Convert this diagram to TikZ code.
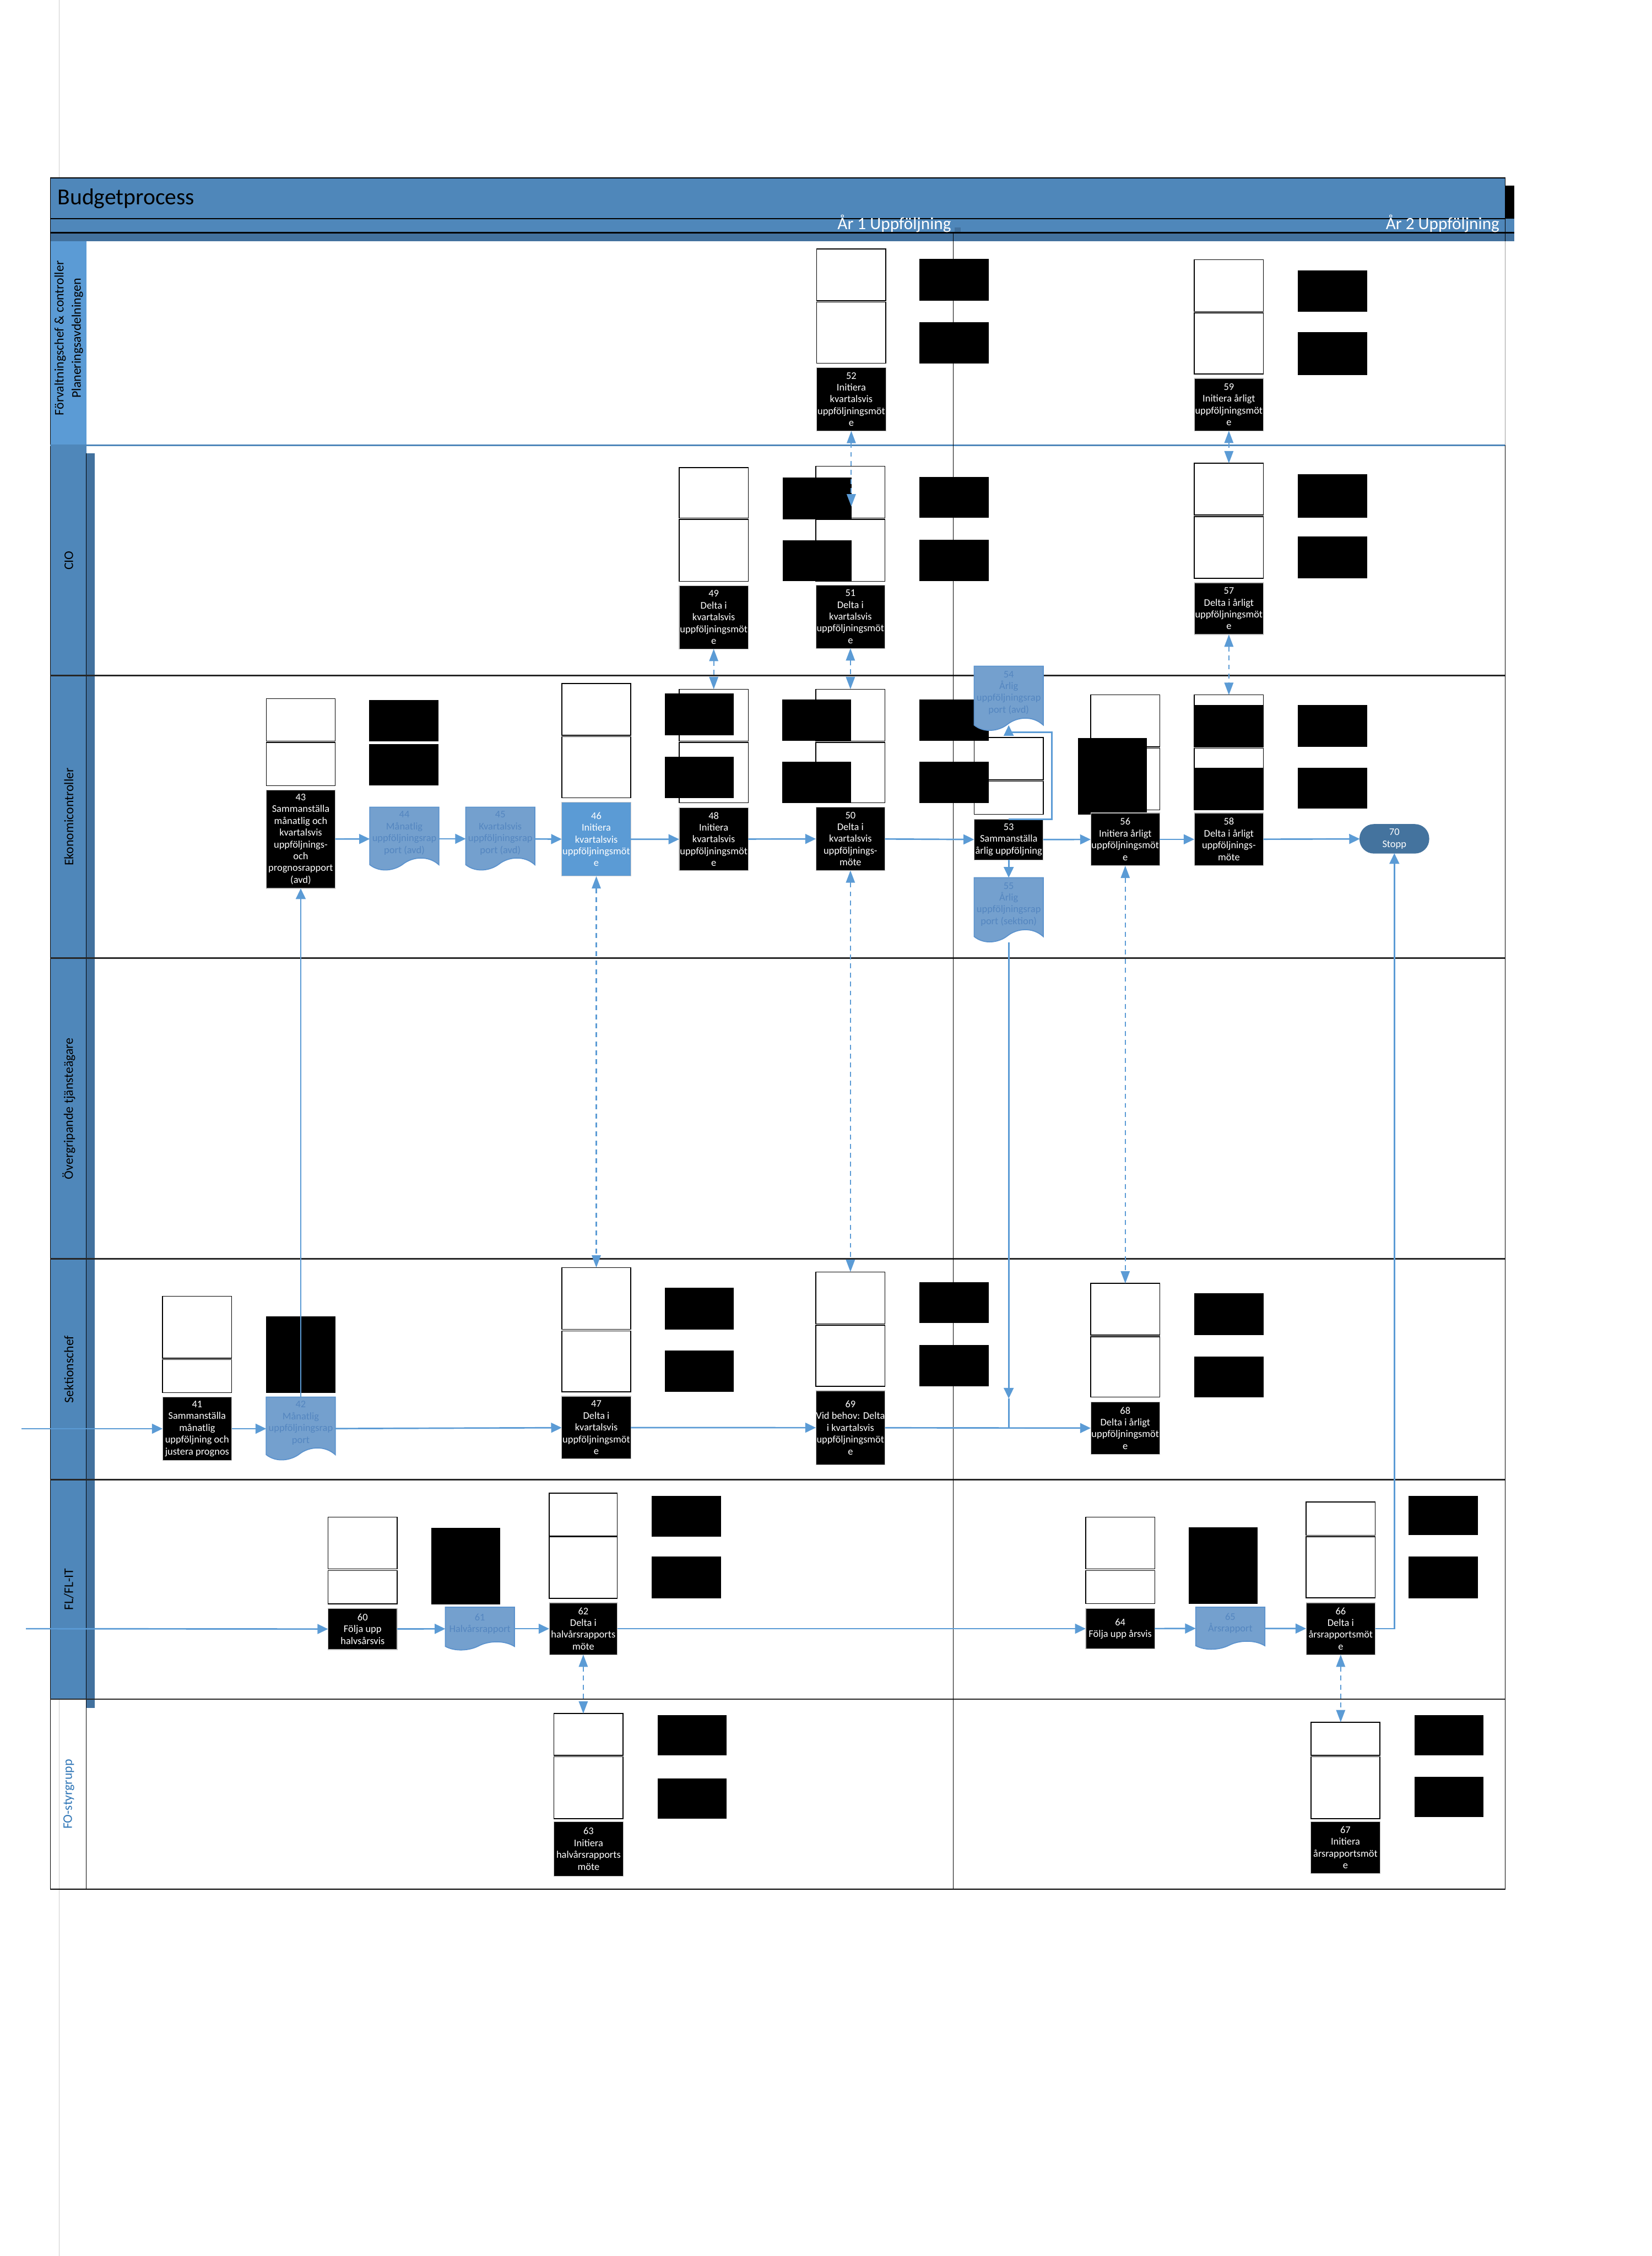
\documentclass[tikz,border=0pt]{standalone}
\usepackage{fontspec}
\setmainfont{Carlito}
\usepackage{xcolor}
\usetikzlibrary{shapes, arrows.meta, positioning}
\definecolor{hdrblue}{RGB}{79,135,186}
\definecolor{hdrdark}{RGB}{66,113,158}
\definecolor{lightblue}{RGB}{91,155,213}
\definecolor{docfill}{RGB}{116,160,206}
\definecolor{docedge}{RGB}{91,146,205}
\definecolor{doctxt}{RGB}{84,134,192}
\definecolor{stopblue}{RGB}{68,115,158}
\definecolor{fotext}{RGB}{46,117,182}
\newcommand{\pxu}{0.03087cm}
\tikzstyle{flow} = [draw=lightblue, line width=0.9pt, ->, >={Triangle[length=6.5pt,width=6pt]}]
\tikzstyle{meet} = [draw=lightblue, line width=0.7pt, dash pattern=on 3pt off 2.5pt, <->, >={Triangle[length=7.5pt,width=5.5pt]}]
\tikzset{docpic/.pic={\path[fill=docfill, draw=docedge, line width=0.6pt] (0,0) -- (1,0) -- (1,.91)
    .. controls (.85,.76) and (.62,.78) .. (.48,.9) .. controls (.36,1.0) and (.15,1.04) .. (0,.91) -- cycle;}}

\begin{document}
\begin{tikzpicture}[x=\pxu, y=-\pxu, font=\fontsize{6.2}{7.2}\selectfont]
        \tikzstyle{proc}=[rectangle, fill=black, draw=black!25, line width=0.4pt, text=white, align=center,
                          inner sep=0pt, outer sep=0pt, anchor=north west, minimum width=48*\pxu]
        \tikzstyle{wbox}=[rectangle, fill=white, draw=black, line width=0.5pt, inner sep=0pt, outer sep=0pt,
                          anchor=north west, minimum width=48*\pxu]
        \tikzstyle{blk}=[rectangle, fill=black, inner sep=0pt, outer sep=0pt, anchor=north west, minimum width=48*\pxu]
        \tikzstyle{docbox}=[rectangle, inner sep=0pt, outer sep=0pt, anchor=north west, minimum width=48*\pxu]
        \tikzstyle{doctext}=[text=doctxt, align=center, inner sep=0pt]
        \tikzstyle{lane}=[rotate=90, align=center, font=\fontsize{8}{10.5}\selectfont]
        \useasboundingbox (0,0) rectangle (1148,1568);
        \draw[black!20, line width=0.4pt] (41,0) -- (41,1568);

        % header
        \fill[hdrblue] (35,123.7) rectangle (1046,152);
        \fill[black] (1046,129) rectangle (1052.5,158.3);
        \fill[hdrblue] (35,152) rectangle (1052.5,161.7);
        \fill[hdrdark] (35,161.7) rectangle (1052.5,167.6);
        \fill[hdrdark] (663.5,158) rectangle (667.5,161.7);
        \draw[line width=0.6pt] (35,123.7) -- (1046,123.7);
        \draw[line width=0.8pt] (35,152) -- (1046,152);
        \draw[line width=0.8pt] (35,161.7) -- (1052.5,161.7);
        \node[anchor=west, font=\fontsize{14}{16}\selectfont] (ttl) at (36,138) {Budgetprocess};
        \node[text=white, font=\fontsize{10.5}{12}\selectfont] (ph1) at (621.5,155.5) {År 1 Uppföljning};
        \node[anchor=east, text=white, font=\fontsize{10.5}{12}\selectfont] (ph2) at (1046,155.5) {År 2 Uppföljning};

        % lanes
        \fill[lightblue] (35,167.6) rectangle (60,309.4);
        \fill[hdrblue] (35,309.4) rectangle (60,1181);
        \fill[hdrdark] (60,315) rectangle (66,1187);
        \draw[line width=0.5pt] (60,315) -- (60,1187);
        \draw[line width=0.6pt] (35,123.7) rectangle (1046,1313);
        \draw[black!40, line width=0.5pt] (1046,167.6) -- (1046,309.4);
        \draw[line width=0.5pt] (60,1181) -- (60,1313);
        \draw[hdrblue, line width=0.9pt] (35,309.4) -- (1046,309.4);
        \foreach \ly in {469.5, 666, 875, 1028.5, 1181}
            \draw[black!85, line width=0.9pt] (35,\ly) -- (1046,\ly);
        \draw[line width=0.5pt] (662.5,161.7) -- (662.5,1313);
        \node[lane] (l1) at (47.8,235) {Förvaltningschef \& controller\\Planeringsavdelningen};
        \node[lane] (l2) at (47.8,389.5) {CIO};
        \node[lane] (l3) at (47.8,567.7) {Ekonomicontroller};
        \node[lane] (l4) at (47.8,770.5) {Övergripande tjänsteägare};
        \node[lane] (l5) at (47.8,951.7) {Sektionschef};
        \node[lane] (l6) at (47.8,1104.7) {FL/FL-IT};
        \node[lane, text=fotext] (l7) at (47.8,1247) {FO-styrgrupp};

        % white boxes
        \node[wbox, minimum height=36*\pxu] (w52a) at (567.6,173) {};
        \node[wbox, minimum height=42.5*\pxu] (w52b) at (567.6,210) {};
        \node[wbox, minimum height=36*\pxu] (w59a) at (830,180.5) {};
        \node[wbox, minimum height=42.6*\pxu] (w59b) at (830,217.4) {};
        \node[wbox, minimum height=35*\pxu] (w49a) at (472,325) {};
        \node[wbox, minimum height=43*\pxu] (w49b) at (472,361) {};
        \node[wbox, minimum height=36*\pxu] (w51a) at (567,324) {};
        \node[wbox, minimum height=43*\pxu] (w51b) at (567,361) {};
        \node[wbox, minimum height=36*\pxu] (w57a) at (830,322) {};
        \node[wbox, minimum height=43*\pxu] (w57b) at (830,359) {};
        \node[wbox, minimum height=29.4*\pxu] (w43a) at (185,485.6) {};
        \node[wbox, minimum height=30*\pxu] (w43b) at (185,516) {};
        \node[wbox, minimum height=36*\pxu] (w46a) at (390.4,475) {};
        \node[wbox, minimum height=42.5*\pxu] (w46b) at (390.4,512) {};
        \node[wbox, minimum height=36*\pxu] (w48a) at (472,479) {};
        \node[wbox, minimum height=42*\pxu] (w48b) at (472,516) {};
        \node[wbox, minimum height=36*\pxu] (w50a) at (567,479) {};
        \node[wbox, minimum height=42*\pxu] (w50b) at (567,516) {};
        \node[wbox, minimum height=29.4*\pxu] (w53a) at (677,512.6) {};
        \node[wbox, minimum height=23*\pxu] (w53b) at (677,543) {};
        \node[wbox, minimum height=36*\pxu] (w56a) at (758,483) {};
        \node[wbox, minimum height=43*\pxu] (w56b) at (758,520) {};
        \node[wbox, minimum height=36*\pxu] (w58a) at (830,483) {};
        \node[wbox, minimum height=43*\pxu] (w58b) at (830,520) {};
        \node[wbox, minimum height=43*\pxu] (w41a) at (113,901) {};
        \node[wbox, minimum height=23*\pxu] (w41b) at (113,945) {};
        \node[wbox, minimum height=43*\pxu] (w47a) at (390.4,881) {};
        \node[wbox, minimum height=42.3*\pxu] (w47b) at (390.4,925) {};
        \node[wbox, minimum height=36*\pxu] (w69a) at (567,884) {};
        \node[wbox, minimum height=42.5*\pxu] (w69b) at (567,921) {};
        \node[wbox, minimum height=36*\pxu] (w68a) at (758,892) {};
        \node[wbox, minimum height=42*\pxu] (w68b) at (758,929) {};
        \node[wbox, minimum height=36*\pxu] (w60a) at (228,1054.5) {};
        \node[wbox, minimum height=23.2*\pxu] (w60b) at (228,1091.5) {};
        \node[wbox, minimum height=29.8*\pxu, minimum width=47.3*\pxu] (w62a) at (381.7,1037.7) {};
        \node[wbox, minimum height=43*\pxu, minimum width=47.3*\pxu] (w62b) at (381.7,1068) {};
        \node[wbox, minimum height=36*\pxu] (w64a) at (754.5,1054.5) {};
        \node[wbox, minimum height=23*\pxu] (w64b) at (754.5,1091.5) {};
        \node[wbox, minimum height=23*\pxu] (w66a) at (907.7,1044) {};
        \node[wbox, minimum height=42.5*\pxu] (w66b) at (907.7,1068) {};
        \node[wbox, minimum height=29*\pxu] (w63a) at (385,1191) {};
        \node[wbox, minimum height=43*\pxu] (w63b) at (385,1221) {};
        \node[wbox, minimum height=23*\pxu] (w67a) at (911,1197) {};
        \node[wbox, minimum height=43*\pxu] (w67b) at (911,1221) {};

        % black blocks
        \node[blk, minimum height=29*\pxu] (k52a) at (639,180) {};
        \node[blk, minimum height=28.7*\pxu] (k52b) at (639,224) {};
        \node[blk, minimum height=28.6*\pxu] (k59a) at (902,188) {};
        \node[blk, minimum height=29.5*\pxu] (k59b) at (902,231) {};
        \node[blk, minimum height=29*\pxu] (k49a) at (544,332) {};
        \node[blk, minimum height=28.5*\pxu] (k49b) at (544,375.5) {};
        \node[blk, minimum height=28.6*\pxu] (k51a) at (639,331.4) {};
        \node[blk, minimum height=29*\pxu] (k51b) at (639,375) {};
        \node[blk, minimum height=30.5*\pxu] (k57a) at (902,329.5) {};
        \node[blk, minimum height=29*\pxu] (k57b) at (902,373) {};
        \node[blk, minimum height=28.8*\pxu] (k43a) at (256.6,486.6) {};
        \node[blk, minimum height=29*\pxu] (k43b) at (256.6,517) {};
        \node[blk, minimum height=29*\pxu] (k48a) at (462,482) {};
        \node[blk, minimum height=28.6*\pxu] (k48b) at (462,526) {};
        \node[blk, minimum height=29*\pxu] (k50a) at (543.6,486) {};
        \node[blk, minimum height=28.4*\pxu] (k50b) at (543.6,529.6) {};
        \node[blk, minimum height=29*\pxu] (k53a) at (639,486) {};
        \node[blk, minimum height=28.4*\pxu] (k53b) at (639,529.6) {};
        \node[blk, minimum height=53*\pxu] (k56) at (749,513) {};
        \node[blk, minimum height=29*\pxu] (k58a) at (830,490) {};
        \node[blk, minimum height=29.4*\pxu] (k58b) at (830,533.6) {};
        \node[blk, minimum height=29*\pxu] (k58c) at (902,490) {};
        \node[blk, minimum height=28.4*\pxu] (k58d) at (902,533.6) {};
        \node[blk, minimum height=53*\pxu] (k42) at (185,915) {};
        \node[blk, minimum height=29*\pxu] (k47a) at (462,895) {};
        \node[blk, minimum height=29*\pxu] (k47b) at (462,938.5) {};
        \node[blk, minimum height=28.6*\pxu] (k69a) at (639,891) {};
        \node[blk, minimum height=28.7*\pxu] (k69b) at (639,935) {};
        \node[blk, minimum height=29*\pxu] (k68a) at (830,899) {};
        \node[blk, minimum height=28.3*\pxu] (k68b) at (830,942.7) {};
        \node[blk, minimum height=53*\pxu] (k60) at (299.6,1062) {};
        \node[blk, minimum height=28.4*\pxu] (k62a) at (453,1039.6) {};
        \node[blk, minimum height=29*\pxu] (k62b) at (453,1082) {};
        \node[blk, minimum height=53*\pxu] (k65) at (826,1061.6) {};
        \node[blk, minimum height=27.4*\pxu] (k66a) at (979,1039.6) {};
        \node[blk, minimum height=28.8*\pxu] (k66b) at (979,1082) {};
        \node[blk, minimum height=28*\pxu] (k63a) at (457,1192) {};
        \node[blk, minimum height=28*\pxu] (k63b) at (457,1236) {};
        \node[blk, minimum height=28*\pxu] (k67a) at (983,1192) {};
        \node[blk, minimum height=28*\pxu] (k67b) at (983,1235) {};

        % process steps
        \node[proc, minimum height=44*\pxu] (p52) at (567.6,255.5) {52\\Initiera\\kvartalsvis\\uppföljningsmöt\\e};
        \node[proc, minimum height=36.4*\pxu] (p59) at (830,263) {59\\Initiera årligt\\uppföljningsmöt\\e};
        \node[proc, minimum height=44*\pxu] (p49) at (472,407) {49\\Delta i\\kvartalsvis\\uppföljningsmöt\\e};
        \node[proc, minimum height=44*\pxu] (p51) at (567,406.6) {51\\Delta i\\kvartalsvis\\uppföljningsmöt\\e};
        \node[proc, minimum height=36*\pxu] (p57) at (830,405) {57\\Delta i årligt\\uppföljningsmöt\\e};
        \node[proc, minimum height=68.5*\pxu] (p43) at (185,549) {43\\Sammanställa\\månatlig och\\kvartalsvis\\uppföljnings-\\och\\prognosrapport\\(avd)};
        \node[proc, minimum height=51.3*\pxu, fill=lightblue, draw=black!20] (p46) at (390.4,557.7) {46\\Initiera\\kvartalsvis\\uppföljningsmöt\\e};
        \node[proc, minimum height=43.5*\pxu] (p48) at (472,561.5) {48\\Initiera\\kvartalsvis\\uppföljningsmöt\\e};
        \node[proc, minimum height=44*\pxu] (p50) at (567,561) {50\\Delta i\\kvartalsvis\\uppföljnings-\\möte};
        \node[proc, minimum height=28.2*\pxu] (p53) at (677,569.5) {53\\Sammanställa\\årlig uppföljning};
        \node[proc, minimum height=36.7*\pxu] (p56) at (758,565) {56\\Initiera årligt\\uppföljningsmöt\\e};
        \node[proc, minimum height=36.7*\pxu] (p58) at (830,565) {58\\Delta i årligt\\uppföljnings-\\möte};
        \node[proc, minimum height=20*\pxu, fill=stopblue, draw=stopblue, rounded corners=0.3cm] (s70) at (945,573) {70\\Stopp};
        \node[proc, minimum height=44*\pxu] (p41) at (113,971) {41\\Sammanställa\\månatlig\\uppföljning och\\justera prognos};
        \node[proc, minimum height=43.6*\pxu] (p47) at (390.4,970.4) {47\\Delta i\\kvartalsvis\\uppföljningsmöt\\e};
        \node[proc, minimum height=51.4*\pxu] (p69) at (567,966.6) {69\\Vid behov: Delta\\i kvartalsvis\\uppföljningsmöt\\e};
        \node[proc, minimum height=36.2*\pxu] (p68) at (758,974.5) {68\\Delta i årligt\\uppföljningsmöt\\e};
        \node[proc, minimum height=28.5*\pxu] (p60) at (228,1118) {60\\Följa upp\\halvsårsvis};
        \node[proc, minimum height=36*\pxu, minimum width=47.3*\pxu] (p62) at (381.7,1114) {62\\Delta i\\halvårsrapports\\möte};
        \node[proc, minimum height=28*\pxu] (p64) at (754.5,1118) {64\\Följa upp årsvis};
        \node[proc, minimum height=36*\pxu] (p66) at (907.7,1114) {66\\Delta i\\årsrapportsmöt\\e};
        \node[proc, minimum height=38*\pxu] (p63) at (385,1266) {63\\Initiera\\halvårsrapports\\möte};
        \node[proc, minimum height=36*\pxu] (p67) at (911,1266) {67\\Initiera\\årsrapportsmöt\\e};

        % documents
        \node[docbox, minimum height=44*\pxu] (d44) at (257,561) {};
        \pic[xscale=48, yscale=44] at (d44.north west) {docpic};
        \node[doctext] (t44) at ([yshift=3.5pt]d44.center) {44\\Månatlig\\uppföljningsrap\\port (avd)};
        \node[docbox, minimum height=44*\pxu] (d45) at (323.7,561) {};
        \pic[xscale=48, yscale=44] at (d45.north west) {docpic};
        \node[doctext] (t45) at ([yshift=3.5pt]d45.center) {45\\Kvartalsvis\\uppföljningsrap\\port (avd)};
        \node[docbox, minimum height=45*\pxu] (d54) at (677,463) {};
        \pic[xscale=48, yscale=45] at (d54.north west) {docpic};
        \node[doctext] (t54) at ([yshift=3.5pt]d54.center) {54\\Årlig\\uppföljningsrap\\port (avd)};
        \node[docbox, minimum height=45*\pxu] (d55) at (677,610) {};
        \pic[xscale=48, yscale=45] at (d55.north west) {docpic};
        \node[doctext] (t55) at ([yshift=3.5pt]d55.center) {55\\Årlig\\uppföljningsrap\\port (sektion)};
        \node[docbox, minimum height=44*\pxu] (d42) at (185,971) {};
        \pic[xscale=48, yscale=44] at (d42.north west) {docpic};
        \node[doctext] (t42) at ([yshift=3.5pt]d42.center) {42\\Månatlig\\uppföljningsrap\\port};
        \node[docbox, minimum height=30*\pxu] (d61) at (309.5,1117) {};
        \pic[xscale=48, yscale=30] at (d61.north west) {docpic};
        \node[doctext] (t61) at ([yshift=3pt]d61.center) {61\\Halvårsrapport};
        \node[docbox, minimum height=29.5*\pxu] (d65) at (831,1117) {};
        \pic[xscale=48, yscale=29.5] at (d65.north west) {docpic};
        \node[doctext] (t65) at ([yshift=3pt]d65.center) {65\\Årsrapport};

        % connectors
        \coordinate (in1) at (15,993);
        \coordinate (in2) at (18,1132);
        \coordinate (c54) at (701,504);
        \coordinate (c55) at (701,972);
        \coordinate (c51) at (591.6,352);
        \draw[flow] (in1) -- (p41);
        \draw[flow] (p41) -- (d42);
        \draw[flow] (d42) -- (p47);
        \draw[flow] (p47) -- (p69);
        \draw[flow] (p69) -- (p68);
        \draw[flow] (d42) -- (p43);
        \draw[flow] (p43) -- (d44);
        \draw[flow] (d44) -- (d45);
        \draw[flow] (d45) -- (p46);
        \draw[flow] (p46) -- (p48);
        \draw[flow] (p48) -- (p50);
        \draw[flow] (p50) -- (p53);
        \draw[flow] (p53) -- (p56);
        \draw[flow] (p56) -- (p58);
        \draw[flow] (p58) -- (s70);
        \draw[flow] (p53.north) -| (731,509) -| (c54);
        \draw[flow] (p53) -- (d55);
        \draw[flow] (d55) -- (c55);
        \draw[draw=lightblue, line width=0.9pt] (c55) -- (701,993);
        \draw[flow] (in2) -- (p60);
        \draw[flow] (p60) -- (d61);
        \draw[flow] (d61) -- (p62);
        \draw[flow] (p62) -- (p64);
        \draw[flow] (p64) -- (d65);
        \draw[flow] (d65) -- (p66);
        \draw[flow] (p66.east) -| (s70.south);
        \draw[meet] (p52.south) -- (c51);
        \draw[meet] (p59.south) -- (w57a.north);
        \draw[meet] (p49.south) -- (w48a.north);
        \draw[meet] (p51.south) -- (w50a.north);
        \draw[meet] (p57.south) -- (w58a.north);
        \draw[meet] (p46.south) -- (w47a.north);
        \draw[meet] (p50.south) -- (w69a.north);
        \draw[meet] (p56.south) -- (w68a.north);
        \draw[meet] (p62.south) -- (p62.south |- w63a.north);
        \draw[meet] (p66.south) -- (p66.south |- w67a.north);
    \end{tikzpicture}
\end{document}
